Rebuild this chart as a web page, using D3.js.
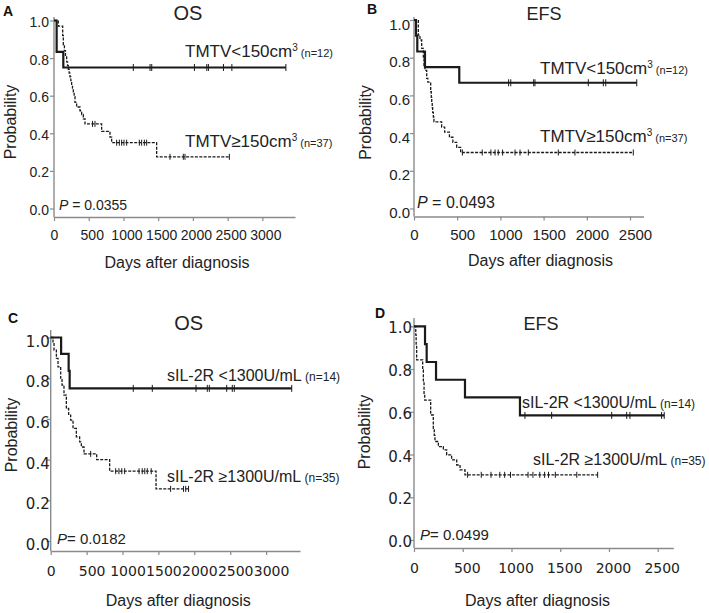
<!DOCTYPE html>
<html><head><meta charset="utf-8">
<script src="https://cdn.jsdelivr.net/npm/d3@7"></script>
<style>body{margin:0;background:#fff}svg{display:block}</style>
</head><body>
<svg id="c" width="709" height="613"></svg>
<script>
// ---------- data ----------
const yTicks = [0, 0.2, 0.4, 0.6, 0.8, 1.0];
const xTicksOS = [0, 500, 1000, 1500, 2000, 2500, 3000];
const xTicksEFS = [0, 500, 1000, 1500, 2000, 2500];

// A: OS by TMTV
const aLowSteps = [[0,1],[38,0.833],[134,0.75]];
const aLowCensor = [1142,1383,1407,2022,2200,2223,2440,2561,3339];
const aHighSteps = [[0,1],[62,0.97],[125,0.92],[134,0.87],[150,0.84],[165,0.81],[182,0.78],[195,0.76],[206,0.74],[218,0.72],[230,0.70],[242,0.68],[254,0.66],[266,0.64],[278,0.62],[290,0.595],[302,0.565],[326,0.54],[374,0.52],[398,0.50],[422,0.477],[446,0.45],[686,0.41],[806,0.38],[830,0.35],[1478,0.275]];
const aHighCensor = [555,590,902,941,974,1008,1046,1229,1262,1301,1334,1670,1862,1886,2525];

// B: EFS by TMTV
const bLowSteps = [[0,1],[23,0.917],[38,0.833],[127,0.75],[524,0.667]];
const bLowCensor = [1095,1120,1385,1400,2017,2191,2219,2578];
const bHighSteps = [[0,1],[50,0.92],[69,0.894],[89,0.85],[108,0.80],[116,0.76],[127,0.733],[147,0.69],[160,0.67],[193,0.62],[200,0.59],[205,0.56],[211,0.535],[216,0.51],[224,0.485],[231,0.46],[320,0.432],[355,0.405],[410,0.378],[450,0.351],[494,0.324],[540,0.297]];
const bHighCensor = [560,790,890,938,975,1025,1169,1227,1323,1670,1863,2538];

// C: OS by sIL-2R
const cLowSteps = [[0,1],[145,0.92],[250,0.836],[264,0.75]];
const cLowCensor = [1150,1415,2024,2181,2209,2451,2529,2557,3357];
const cHighSteps = [[0,1],[32,0.97],[46,0.938],[79,0.897],[102,0.856],[139,0.80],[158,0.766],[185,0.717],[218,0.651],[250,0.619],[278,0.594],[311,0.553],[357,0.512],[403,0.487],[427,0.462],[464,0.428],[640,0.40],[821,0.343],[1467,0.256]];
const cHighCensor = [557,905,950,990,1030,1230,1275,1310,1345,1400,1670,1850,1880,1920];

// D: EFS by sIL-2R
const dLowSteps = [[0,1],[113,0.917],[130,0.833],[226,0.75],[523,0.667],[1087,0.583]];
const dLowCensor = [1138,1412,2028,2182,2215,2540,2567];
const dHighSteps = [[0,1],[18,0.96],[22,0.91],[27,0.843],[89,0.796],[96,0.74],[103,0.686],[110,0.655],[171,0.585],[198,0.523],[208,0.49],[215,0.461],[250,0.437],[301,0.422],[335,0.398],[386,0.375],[438,0.351],[472,0.328],[523,0.305]];
const dHighCensor = [550,690,790,880,930,990,1170,1220,1290,1340,1380,1450,1670,1884];

const titles = ["OS", "EFS", "OS", "EFS"];
const letters = ["A", "B", "C", "D"];
const pValues = ["0.0355", "0.0493", "0.0182", "0.0499"];
const legendTmtv = [["TMTV<150cm", "3", " (n=12)"], ["TMTV≥150cm", "3", " (n=37)"]];
const legendSil = [["sIL-2R <1300U/mL", "", " (n=14)"], ["sIL-2R ≥1300U/mL", "", " (n=35)"]];
const xTitle = "Days after diagnosis";
const yTitle = "Probability";

// ---------- drawing ----------
const svg = d3.select("#c");
const SANS = "'Liberation Sans', Arial, sans-serif";
const DEJA = "'DejaVu Sans', sans-serif";
const AX = "#8a8a8a", INK = "#1a1a1a", TXT = "#222";

function valueAt(steps, d) {
  let v = steps[0][1];
  for (const s of steps) if (s[0] <= d) v = s[1];
  return v;
}

function drawPanel(p) {
  const g = svg.append("g");
  const x = d3.scaleLinear().domain([0, p.xMax]).range([p.x0, p.x1]);
  const y = d3.scaleLinear().domain([0, 1]).range([p.y0, p.y1]);

  g.append("line").attr("x1", p.x0).attr("x2", p.x0).attr("y1", p.yTop).attr("y2", p.axisY)
    .attr("stroke", AX).attr("stroke-width", 1.4);

  const xa = g.append("g").attr("transform", `translate(0,${p.axisY})`)
    .call(d3.axisBottom(x).tickValues(p.xTicks).tickSize(4).tickSizeOuter(0).tickFormat(d3.format("d")));
  xa.select(".domain").attr("stroke", AX).attr("stroke-width", 1.4);
  xa.selectAll(".tick line").attr("stroke", AX).attr("stroke-width", 1.2);
  xa.selectAll(".tick text").attr("y", p.xLabY - p.axisY).attr("dy", 0)
    .attr("dx", d => d > 0 ? p.xLabDx : 0)
    .attr("font-family", p.tickFont).attr("font-size", p.xTickSize).attr("fill", TXT);

  const ya = g.append("g").attr("transform", `translate(${p.x0},0)`)
    .call(d3.axisLeft(y).tickValues(yTicks).tickSize(4).tickFormat(d3.format(".1f")));
  ya.select(".domain").remove();
  ya.selectAll(".tick line").attr("stroke", AX).attr("stroke-width", 1.2);
  ya.selectAll(".tick text").attr("x", -p.yLabGap).attr("dy", 0).attr("y", p.yLabDy)
    .attr("font-family", p.tickFont).attr("font-size", p.yTickSize).attr("fill", TXT);

  const line = d3.line().x(d => x(d[0])).y(d => y(d[1])).curve(d3.curveStepAfter);
  p.curves.forEach(c => {
    const end = c.censor[c.censor.length - 1];
    const pts = c.steps.concat([[end, c.steps[c.steps.length - 1][1]]]);
    g.append("path").attr("d", line(pts)).attr("fill", "none").attr("stroke", INK)
      .attr("stroke-width", c.solid ? 2.2 : 1.3)
      .attr("stroke-dasharray", c.solid ? null : "3,1.4");
    g.selectAll(null).data(c.censor).enter().append("line")
      .attr("x1", d => x(d)).attr("x2", d => x(d))
      .attr("y1", d => y(valueAt(c.steps, d)) - (c.solid ? 3.5 : 3))
      .attr("y2", d => y(valueAt(c.steps, d)) + (c.solid ? 3.5 : 3))
      .attr("stroke", INK).attr("stroke-width", 1);
  });

  p.legends.forEach((L, i) => {
    const t = g.append("text").attr("x", p.leg[i][0]).attr("y", p.leg[i][1])
      .attr("font-family", SANS).attr("fill", TXT);
    t.append("tspan").attr("font-size", p.legSize).text(L[0]);
    if (L[1]) t.append("tspan").attr("font-size", 10).attr("dy", -6).text(L[1]);
    t.append("tspan").attr("font-size", p.smallSize).attr("dy", L[1] ? 6 : 0).text(L[2]);
  });

  const pt = g.append("text").attr("x", p.pPos[0]).attr("y", p.pPos[1])
    .attr("font-family", SANS).attr("font-size", p.pSize).attr("fill", TXT);
  pt.append("tspan").attr("font-style", "italic").text("P");
  pt.append("tspan").text(p.pSep + p.pVal);

  g.append("text").attr("x", p.title[0]).attr("y", p.title[1]).attr("text-anchor", "middle")
    .attr("font-family", SANS).attr("font-size", p.titleSize).attr("fill", TXT).text(p.titleText);
  g.append("text").attr("x", p.letter[0]).attr("y", p.letter[1])
    .attr("font-family", SANS).attr("font-weight", "bold").attr("font-size", 14).attr("fill", "#111").text(p.letterText);

  g.append("text").attr("x", p.xt[0]).attr("y", p.xt[1]).attr("text-anchor", "middle")
    .attr("font-family", SANS).attr("font-size", 16).attr("fill", TXT).text(xTitle);
  g.append("text").attr("transform", `translate(${p.yt[0]},${p.yt[1]}) rotate(-90)`)
    .attr("text-anchor", "middle").attr("font-family", SANS).attr("font-size", 16).attr("fill", TXT).text(yTitle);
}

drawPanel({
  x0: 54, x1: 295, xMax: 3470, y0: 208.5, y1: 20.5, yTop: 17, axisY: 217,
  xTicks: xTicksOS, xLabY: 240, xLabDx: 3, tickFont: SANS, xTickSize: 14, yTickSize: 14, yLabGap: 5, yLabDy: 6,
  curves: [{steps: aLowSteps, censor: aLowCensor, solid: true}, {steps: aHighSteps, censor: aHighCensor, solid: false}],
  legends: legendTmtv, leg: [[185, 57], [185, 147]], legSize: 17, smallSize: 11,
  pPos: [59, 210], pSize: 14, pSep: " = ", pVal: pValues[0],
  title: [188, 20], titleSize: 20, titleText: titles[0], letter: [3, 16], letterText: letters[0],
  xt: [177, 268], yt: [16, 122]
});
drawPanel({
  x0: 414, x1: 643.5, xMax: 2656, y0: 208.5, y1: 20, yTop: 17, axisY: 216.5,
  xTicks: xTicksEFS, xLabY: 240, xLabDx: 5, tickFont: SANS, xTickSize: 15, yTickSize: 15, yLabGap: 4, yLabDy: 9,
  curves: [{steps: bLowSteps, censor: bLowCensor, solid: true}, {steps: bHighSteps, censor: bHighCensor, solid: false}],
  legends: legendTmtv, leg: [[540, 74], [540, 142]], legSize: 17, smallSize: 11,
  pPos: [417, 208], pSize: 16, pSep: " = ", pVal: pValues[1],
  title: [544, 20], titleSize: 18, titleText: titles[1], letter: [367, 14], letterText: letters[1],
  xt: [540.5, 266], yt: [371, 122.5]
});
drawPanel({
  x0: 50.7, x1: 300, xMax: 3472, y0: 541, y1: 337.5, yTop: 330, axisY: 551,
  xTicks: xTicksOS, xLabY: 576, xLabDx: 5, tickFont: DEJA, xTickSize: 14, yTickSize: 15, yLabGap: 1, yLabDy: 8.5,
  curves: [{steps: cLowSteps, censor: cLowCensor, solid: true}, {steps: cHighSteps, censor: cHighCensor, solid: false}],
  legends: legendSil, leg: [[167, 381], [167, 482]], legSize: 16, smallSize: 12,
  pPos: [57, 544], pSize: 15, pSep: "= ", pVal: pValues[2],
  title: [188.7, 330], titleSize: 20, titleText: titles[2], letter: [8, 323], letterText: letters[2],
  xt: [178.3, 606], yt: [17, 435]
});
drawPanel({
  x0: 414, x1: 673.3, xMax: 2660, y0: 540, y1: 326.3, yTop: 318, axisY: 548,
  xTicks: xTicksEFS, xLabY: 573, xLabDx: 4, tickFont: DEJA, xTickSize: 14, yTickSize: 15, yLabGap: 2, yLabDy: 6.5,
  curves: [{steps: dLowSteps, censor: dLowCensor, solid: true}, {steps: dHighSteps, censor: dHighCensor, solid: false}],
  legends: legendSil, leg: [[522, 408], [533, 465]], legSize: 16, smallSize: 12,
  pPos: [420, 540], pSize: 15, pSep: "= ", pVal: pValues[3],
  title: [541, 330], titleSize: 18, titleText: titles[3], letter: [375, 318], letterText: letters[3],
  xt: [537.5, 606], yt: [370, 432]
});
</script>
</body></html>
